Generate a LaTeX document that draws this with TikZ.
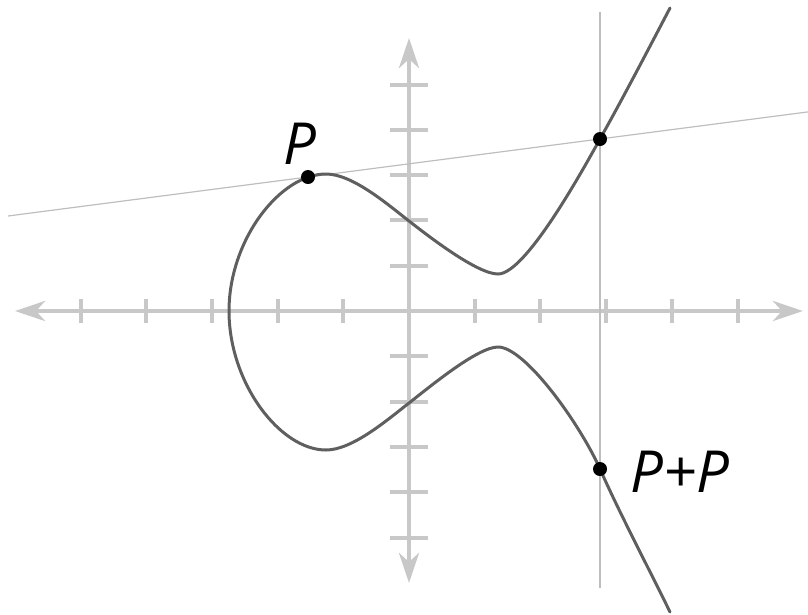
\documentclass[tikz,border=0pt]{standalone}
\usepackage{fontspec}
\setmainfont{Open Sans}
\usetikzlibrary{arrows.meta}
\definecolor{axisgray}{RGB}{200,200,200}
\definecolor{curvegray}{RGB}{95,95,95}
\definecolor{linegray}{RGB}{190,190,190}
\begin{document}
\begin{tikzpicture}[x=1pt,y=-1pt,
  axis/.style={draw=axisgray,line width=4.5pt},
  axtip/.style={-{Stealth[length=30pt,width=20pt,inset=9pt]}},
  tickmark/.style={draw=axisgray,line width=4pt},
  curve/.style={draw=curvegray,line width=3pt,line join=round,line cap=round},
  thinline/.style={draw=linegray,line width=1.2pt},
  dot/.style={circle,fill=black,inner sep=0pt,minimum size=14pt},
  lab/.style={inner sep=0pt,font=\fontsize{58}{60}\selectfont\itshape}]
\useasboundingbox (0,0) rectangle (808,614);
% axes
\coordinate (O) at (409,311);
\coordinate (xl) at (15,311);
\coordinate (xr) at (803,311);
\coordinate (yt) at (409,38);
\coordinate (yb) at (409,583);
\draw[axis,axtip] (O) -- (xl);
\draw[axis,axtip] (O) -- (xr);
\draw[axis,axtip] (O) -- (yt);
\draw[axis,axtip] (O) -- (yb);
\foreach \k in {-5,-4,-3,-2,-1,1,2,3,4,5}{
  \draw[tickmark] ({409+65.7*\k},299) -- ({409+65.7*\k},323);
  \draw[tickmark] (390,{311+45.3*\k}) -- (428,{311+45.3*\k});
}
% tangent and vertical line
\coordinate (tl) at (8,216);
\coordinate (tr) at (808,111.9);
\coordinate (vt) at (600,12);
\coordinate (vb) at (600,588);
\draw[thinline] (tl) -- (tr);
\draw[thinline] (vt) -- (vb);
% curve
\coordinate (c0) at (670,8);
\coordinate (c1) at (600,139);
\coordinate (c2) at (498,274);
\coordinate (c3) at (409,221);
\coordinate (c4) at (326,174);
\coordinate (c5) at (229,311);
\coordinate (c6) at (326,450);
\coordinate (c7) at (409,403);
\coordinate (c8) at (498,347);
\coordinate (c9) at (600,469);
\coordinate (c10) at (670,612);
\draw[curve] (c0) .. controls (648,50) and (623,98) .. (c1)
  .. controls (580,175) and (525,274) .. (c2)
  .. controls (478,274) and (432,239) .. (c3)
  .. controls (386,203) and (352,174) .. (c4)
  .. controls (280,174) and (229,240) .. (c5)
  .. controls (229,383) and (280,450) .. (c6)
  .. controls (352,450) and (386,421) .. (c7)
  .. controls (432,385) and (478,347) .. (c8)
  .. controls (525,347) and (580,424) .. (c9)
  .. controls (620,514) and (648,567) .. (c10);
% points
\node[dot] (P) at (308,177) {};
\node[dot] (Q) at (600,139) {};
\node[dot] (PP) at (600,469) {};
\node[lab] (Plab) at (300,143.5) {P};
\node[lab] (PPlab) at (680,472) {P+P};
\end{tikzpicture}
\end{document}
